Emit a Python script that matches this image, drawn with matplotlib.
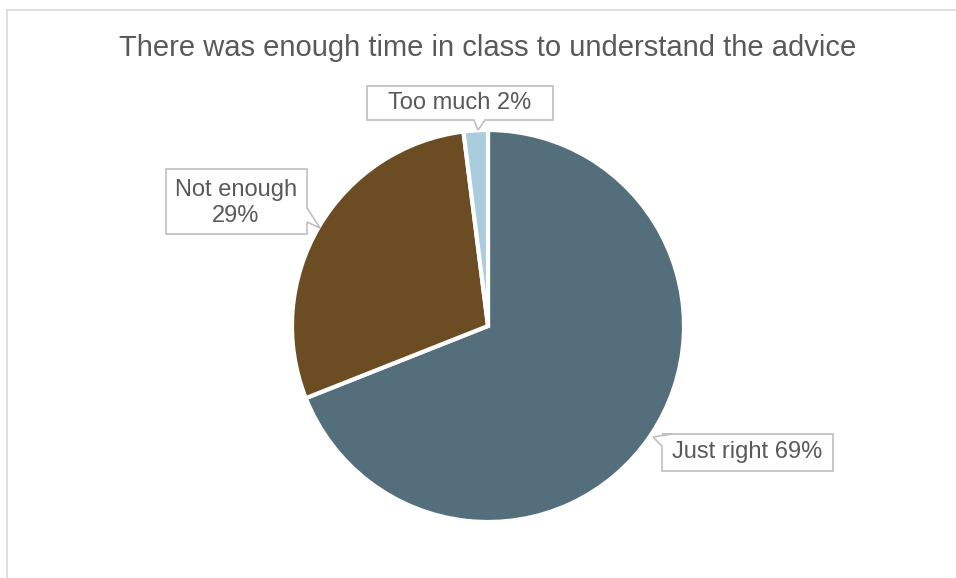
import matplotlib.pyplot as plt
from matplotlib.patches import Polygon

# dados
categorias = ['Just right', 'Not enough', 'Too much']
valores = [69, 29, 2]
cores = ['#546F7B', '#6B4C23', '#A9CDDD']
rotulos = ['Just right 69%', 'Not enough\n29%', 'Too much 2%']

W, H = 956, 578
cx, cy, r = 488, 326, 196  # centro e raio da pizza em pixels

fig = plt.figure(figsize=(W / 100, H / 100), dpi=100)
ax = fig.add_axes([0, 0, 1, 1])
ax.pie(valores, colors=cores, startangle=90, counterclock=False,
       radius=1, wedgeprops=dict(edgecolor='white', linewidth=3))
ax.set_xlim(-cx / r, (W - cx) / r)
ax.set_ylim(-(H - cy) / r, cy / r)
ax.set_aspect('equal')
ax.axis('off')

# camada em pixels para caixas dos rotulos, titulo e borda
ov = fig.add_axes([0, 0, 1, 1], facecolor='none')
ov.set_xlim(0, W)
ov.set_ylim(H, 0)
ov.axis('off')

# caixas com ponteiro (contorno em pixels)
caixas = [
    [(662, 434), (672, 434), (653, 437), (662, 446), (662, 471), (833, 471), (833, 434)],
    [(166, 169), (307, 169), (307, 208), (320, 228), (307, 222), (307, 234), (166, 234)],
    [(367, 86), (553, 86), (553, 120), (485, 120), (478, 130), (474, 120), (367, 120)],
]
centros = [(747, 452), (236, 203), (460, 103)]

for rot, cx_t, poly in zip(rotulos, centros, caixas):
    ov.add_patch(Polygon(poly, closed=True, fc='white', ec='#BFBFBF', lw=1.2, zorder=3))
    ov.text(cx_t[0], cx_t[1], rot, ha='center', va='center', fontsize=17,
            color='#595959', family='Liberation Sans', linespacing=1.2, zorder=4)

ov.text(488, 48, 'There was enough time in class to understand the advice',
        ha='center', va='center', fontsize=21, color='#595959', family='Liberation Sans')

# borda da area do grafico (so topo e esquerda aparecem)
ov.plot([7.5, W], [9.5, 9.5], color='#D9D9D9', lw=1.2)
ov.plot([7.5, 7.5], [9.5, H], color='#D9D9D9', lw=1.2)

fig.savefig('out.png', dpi=100)
